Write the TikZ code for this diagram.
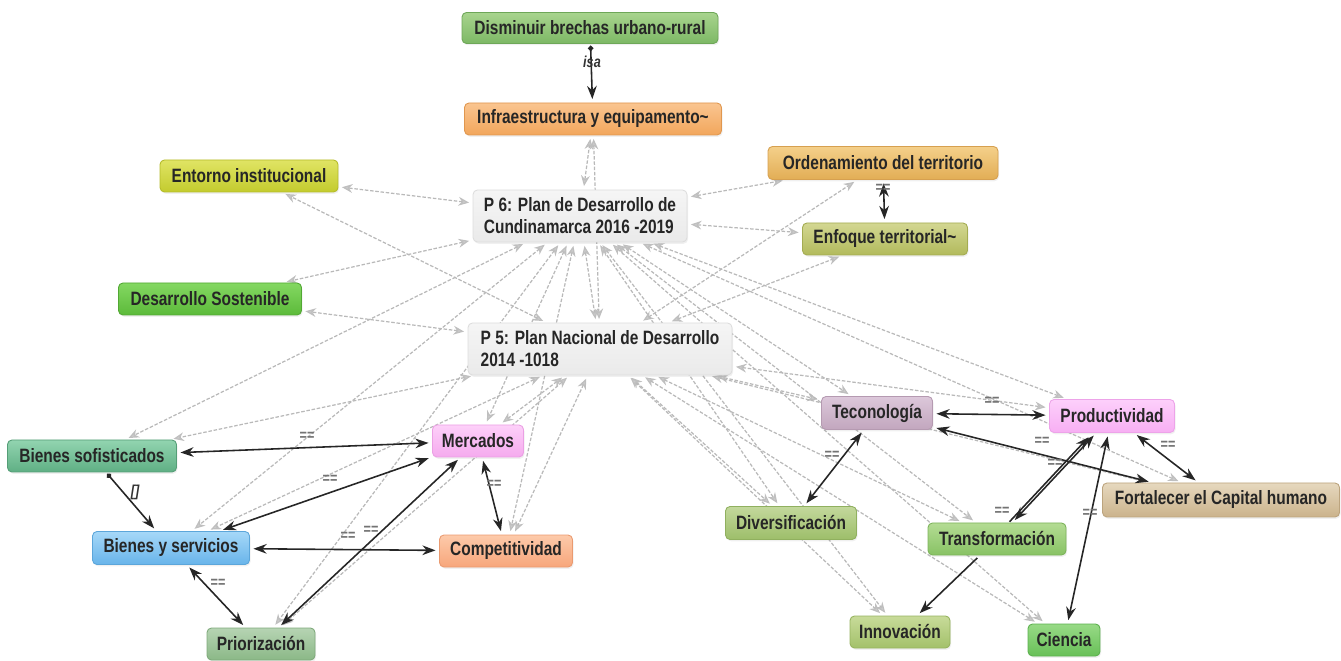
\documentclass[tikz,border=0pt]{standalone}
\usepackage{fontspec}
\newfontfamily\nodefont{Liberation Sans}[FakeStretch=0.8]
\usetikzlibrary{arrows.meta,backgrounds,shadows}

% node colours: top / bottom of the gradient and the border
\definecolor{disT}{HTML}{A8D48E}\definecolor{disB}{HTML}{7DB865}\definecolor{disD}{HTML}{6EA758}
\definecolor{infT}{HTML}{FAC590}\definecolor{infB}{HTML}{F2A65C}\definecolor{infD}{HTML}{E0974F}
\definecolor{entT}{HTML}{E0E464}\definecolor{entB}{HTML}{C3CB2E}\definecolor{entD}{HTML}{B4BB2A}
\definecolor{docT}{HTML}{F5F5F5}\definecolor{docB}{HTML}{EAEAEA}\definecolor{docD}{HTML}{DDDDDD}
\definecolor{ordT}{HTML}{F4D08A}\definecolor{ordB}{HTML}{E2AD55}\definecolor{ordD}{HTML}{D6A050}
\definecolor{enfT}{HTML}{D3D792}\definecolor{enfB}{HTML}{B2BA5C}\definecolor{enfD}{HTML}{A4AC52}
\definecolor{desT}{HTML}{84D862}\definecolor{desB}{HTML}{5CBA3A}\definecolor{desD}{HTML}{52A834}
\definecolor{bsT}{HTML}{92D4B0}\definecolor{bsB}{HTML}{5FAF84}\definecolor{bsD}{HTML}{559E77}
\definecolor{merT}{HTML}{FDD0F9}\definecolor{merB}{HTML}{F5AAEE}\definecolor{merD}{HTML}{EBA0E4}
\definecolor{tecT}{HTML}{DCC8DA}\definecolor{tecB}{HTML}{C2A7BE}\definecolor{tecD}{HTML}{B59AB1}
\definecolor{proT}{HTML}{FDD0FB}\definecolor{proB}{HTML}{F7AEF3}\definecolor{proD}{HTML}{EDA3E9}
\definecolor{forT}{HTML}{E6D8BE}\definecolor{forB}{HTML}{CBB38C}\definecolor{forD}{HTML}{BCA47E}
\definecolor{bysT}{HTML}{A6D8F8}\definecolor{bysB}{HTML}{68B4EA}\definecolor{bysD}{HTML}{5CA6DA}
\definecolor{comT}{HTML}{FDCAAA}\definecolor{comB}{HTML}{F7A67B}\definecolor{comD}{HTML}{EA9A70}
\definecolor{divT}{HTML}{C3D89C}\definecolor{divB}{HTML}{9DBE6A}\definecolor{divD}{HTML}{90B05F}
\definecolor{traT}{HTML}{B4DC94}\definecolor{traB}{HTML}{88C264}\definecolor{traD}{HTML}{7CB35A}
\definecolor{priT}{HTML}{B6D4B3}\definecolor{priB}{HTML}{8BB887}\definecolor{priD}{HTML}{7FA97B}
\definecolor{innT}{HTML}{C8DB9A}\definecolor{innB}{HTML}{A3C16A}\definecolor{innD}{HTML}{96B35F}
\definecolor{cieT}{HTML}{98DA86}\definecolor{cieB}{HTML}{68C058}\definecolor{cieD}{HTML}{5CB04E}

\begin{document}
\begin{tikzpicture}[x=0.02cm,y=-0.02cm,
  kbox/.style={rounded corners=0.09cm, inner xsep=0.12cm, inner ysep=0.06cm,
    text=black!85, font=\nodefont\bfseries\fontsize{11}{12.5}\selectfont,
    drop shadow={opacity=0.12, shadow xshift=0.6pt, shadow yshift=-1pt}},
  sz/.style 2 args={minimum width=#1*0.02cm, minimum height=#2*0.02cm},
  paint/.style={top color=#1T, bottom color=#1B, draw=#1D, line width=0.5pt},
  assoc/.style={draw=gray!55, line width=0.7pt, dash pattern=on 2pt off 1pt,
    {Stealth[length=6pt,width=5pt,color=gray!50,fill=gray!40]}-{Stealth[length=6pt,width=5pt,color=gray!50,fill=gray!40]},
    shorten <=2pt, shorten >=2pt},
  rel/.style={draw=black!85, line width=0.9pt,
    {Stealth[length=7.5pt,width=5.5pt]}-{Stealth[length=7.5pt,width=5.5pt]},
    shorten <=2pt, shorten >=2pt},
  dirrel/.style={draw=black!85, line width=0.9pt,
    {Circle[length=3pt]}-{Stealth[length=7.5pt,width=5.5pt]},
    shorten <=1pt, shorten >=2pt},
  onerel/.style={draw=black!85, line width=0.9pt, -{Stealth[length=7.5pt,width=5.5pt]},
    shorten <=2pt, shorten >=2pt},
  lab/.style={font=\nodefont\bfseries\fontsize{9}{9}\selectfont, text=black!55, inner sep=0pt},
  ilab/.style={font=\nodefont\bfseries\itshape\fontsize{9}{9}\selectfont, text=black!80, inner sep=0pt}
]
\useasboundingbox (0,0) rectangle (1341,661);

% documents
\node[kbox, paint=doc, sz={214}{52}, align=left] (p6) at (580,216)
  {P 6: Plan de Desarrollo de\\Cundinamarca 2016 -2019};
\node[kbox, paint=doc, sz={264}{52}, align=left] (p5) at (600,349)
  {P 5: Plan Nacional de Desarrollo\\2014 -1018};

% codes
\node[kbox, paint=dis, sz={256}{31}] (dis)  at (590,28)   {Disminuir brechas urbano-rural};
\node[kbox, paint=inf, sz={257}{32}] (inf)  at (593,119)  {Infraestructura y equipamento\textasciitilde};
\node[kbox, paint=ent, sz={178}{32}] (ent)  at (249,176)  {Entorno institucional};
\node[kbox, paint=ord, sz={230}{33}] (ord)  at (883,163)  {Ordenamiento del territorio};
\node[kbox, paint=enf, sz={165}{32}] (enf)  at (885,239)  {Enfoque territorial\textasciitilde};
\node[kbox, paint=des, sz={183}{32}] (des)  at (210,299)  {Desarrollo Sostenible};
\node[kbox, paint=bs,  sz={169}{32}] (bs)   at (92,456)   {Bienes sofisticados};
\node[kbox, paint=mer, sz={91}{32}]  (mer)  at (478,441)  {Mercados};
\node[kbox, paint=tec, sz={111}{33}] (tec)  at (877,413)  {Teconología};
\node[kbox, paint=pro, sz={125}{33}] (prod) at (1112,416) {Productividad};
\node[kbox, paint=for, sz={237}{34}] (fort) at (1221,500) {Fortalecer el Capital humano};
\node[kbox, paint=bys, sz={157}{33}] (bys)  at (171,548)  {Bienes y servicios};
\node[kbox, paint=com, sz={133}{32}] (comp) at (506,551)  {Competitividad};
\node[kbox, paint=div, sz={131}{33}] (div)  at (791,523)  {Diversificación};
\node[kbox, paint=tra, sz={138}{32}] (tra)  at (997,539)  {Transformación};
\node[kbox, paint=pri, sz={108}{32}] (pri)  at (261,644)  {Priorización};
\node[kbox, paint=inn, sz={100}{32}] (inn)  at (900,632)  {Innovación};
\node[kbox, paint=cie, sz={72}{32}]  (cie)  at (1064,640) {Ciencia};

% document-to-code links, behind the boxes
\begin{scope}[on background layer]
  \foreach \n in {inf,ent,ord,enf,des,bs,mer,tec,prod,fort,bys,comp,div,tra,pri,inn,cie}{
    \draw[assoc] (p6) -- (\n);
    \draw[assoc] (p5) -- (\n);
  }
  \draw[assoc] (p6) -- (p5);
\end{scope}

% code-to-code relations
\draw[dirrel] (dis) -- (inf);
\draw[rel] (ord) -- (enf);
\draw[rel] (bs) -- (mer);
\draw[dirrel] (bs) -- (bys);
\draw[rel] (bys) -- (mer);
\draw[rel] (bys) -- (comp);
\draw[rel] (bys) -- (pri);
\draw[rel] (pri) -- (mer);
\draw[rel] (mer) -- (comp);
\draw[rel] (tec) -- (prod);
\draw[rel] (tec) -- (fort);
\draw[rel] (prod) -- (fort);
\draw[rel] (tec) -- (div);
\draw[rel] (prod) -- (tra);
\draw[onerel, transform canvas={xshift=-3pt,yshift=-1pt}] (tra) -- (prod);
\draw[rel] (prod) -- (cie);
\draw[onerel] (tra) -- (inn);

% relation labels
\node[ilab] (l1)  at (592,62)   {isa};
\node[lab]  (l2)  at (883,188)  {==};
\node[lab]  (l3)  at (307,436)  {==};
\node[ilab] (l4)  at (135,492)  {[]};
\node[lab]  (l5)  at (330,479)  {==};
\node[lab]  (l6)  at (348,536)  {==};
\node[lab]  (l7)  at (371,530)  {==};
\node[lab]  (l8)  at (218,583)  {==};
\node[lab]  (l9)  at (494,484)  {==};
\node[lab]  (l10) at (992,401)  {==};
\node[lab]  (l11) at (1042,441) {==};
\node[lab]  (l12) at (1055,463) {==};
\node[lab]  (l13) at (1168,445) {==};
\node[lab]  (l14) at (1002,511) {==};
\node[lab]  (l15) at (1090,513) {==};
\node[lab]  (l16) at (832,455)  {==};
\end{tikzpicture}
\end{document}
